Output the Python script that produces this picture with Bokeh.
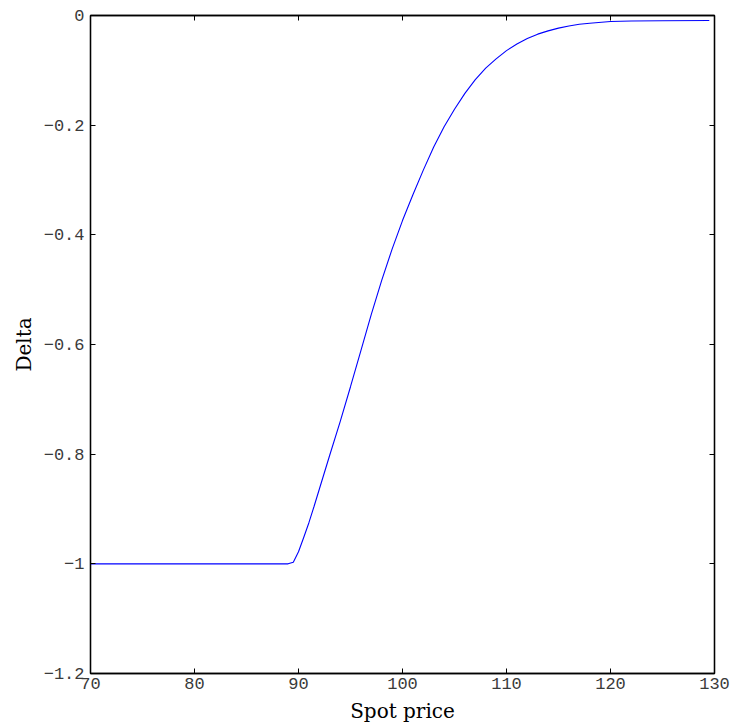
from bokeh.plotting import figure
from bokeh.models import LinearAxis, FixedTicker, Range1d
from bokeh.embed import file_html
from bokeh.resources import INLINE

spot = [70, 75, 80, 85, 88, 89, 89.5, 90, 90.5, 91, 91.5, 92, 93, 94, 95, 96, 97, 98,
        99, 100, 101, 102, 103, 104, 105, 106, 107, 108, 109, 110, 111, 112, 113, 114,
        115, 116, 117, 118, 120, 122, 125, 129.5]
delta = [-1.0, -1.0, -1.0, -1.0, -1.0, -1.0, -0.997, -0.978, -0.952, -0.925, -0.895,
         -0.864, -0.802, -0.741, -0.677, -0.611, -0.545, -0.483, -0.426, -0.374, -0.327,
         -0.282, -0.240, -0.203, -0.171, -0.142, -0.117, -0.096, -0.079, -0.064, -0.052,
         -0.042, -0.034, -0.028, -0.023, -0.019, -0.016, -0.014, -0.011, -0.010, -0.0095,
         -0.009]

x_ticks = [70, 80, 90, 100, 110, 120, 130]
y_ticks = [-1.2, -1.0, -0.8, -0.6, -0.4, -0.2, 0.0]
y_tick_labels = ["\u22121.2", "\u22121", "\u22120.8", "\u22120.6", "\u22120.4", "\u22120.2", "0"]
x_tick_labels = ["70", "80", "90", "100", "110", "120", "130"]

p = figure(width=734, height=728, output_backend="svg", toolbar_location=None,
           x_range=Range1d(70, 130), y_range=Range1d(-1.2, 0),
           x_axis_location=None, y_axis_location=None,
           min_border_left=90, min_border_right=20, min_border_top=15, min_border_bottom=55)
p.grid.visible = False
p.outline_line_color = "black"
p.outline_line_width = 1.3
p.background_fill_color = "white"
p.border_fill_color = "white"

tick_font = "Liberation Mono"
label_font = "DejaVu Serif"

def style(ax, show_labels):
    ax.major_tick_in = 5
    ax.major_tick_out = 0
    ax.minor_tick_in = 0
    ax.minor_tick_out = 0
    ax.axis_line_color = "black"
    ax.axis_line_width = 1.3
    ax.major_tick_line_color = "black"
    ax.major_label_text_font = tick_font
    ax.major_label_text_font_size = "17px"
    ax.major_label_text_color = "#3a3a3a"
    if not show_labels:
        ax.major_label_text_font_size = "0px"
        ax.major_label_text_alpha = 0

xb = LinearAxis(ticker=FixedTicker(ticks=x_ticks),
                major_label_overrides={t: s for t, s in zip(x_ticks, x_tick_labels)})
style(xb, True)
xb.major_label_standoff = 4
xb.axis_label = "Spot price"
xb.axis_label_text_font = label_font
xb.axis_label_text_font_style = "normal"
xb.axis_label_text_font_size = "20px"
xb.axis_label_text_color = "black"
xb.axis_label_standoff = 7
p.add_layout(xb, "below")

yl = LinearAxis(ticker=FixedTicker(ticks=y_ticks),
                major_label_overrides={t: s for t, s in zip(y_ticks, y_tick_labels)})
style(yl, True)
yl.major_label_standoff = 6
yl.axis_label = "Delta"
yl.axis_label_text_font = label_font
yl.axis_label_text_font_style = "normal"
yl.axis_label_text_font_size = "20px"
yl.axis_label_text_color = "black"
yl.axis_label_standoff = 5
p.add_layout(yl, "left")

xt = LinearAxis(ticker=FixedTicker(ticks=x_ticks))
style(xt, False)
p.add_layout(xt, "above")

yr = LinearAxis(ticker=FixedTicker(ticks=y_ticks))
style(yr, False)
p.add_layout(yr, "right")

p.line(spot, delta, line_color="#0000ff", line_width=1.1)

open("out.html", "w").write(file_html(p, INLINE))
